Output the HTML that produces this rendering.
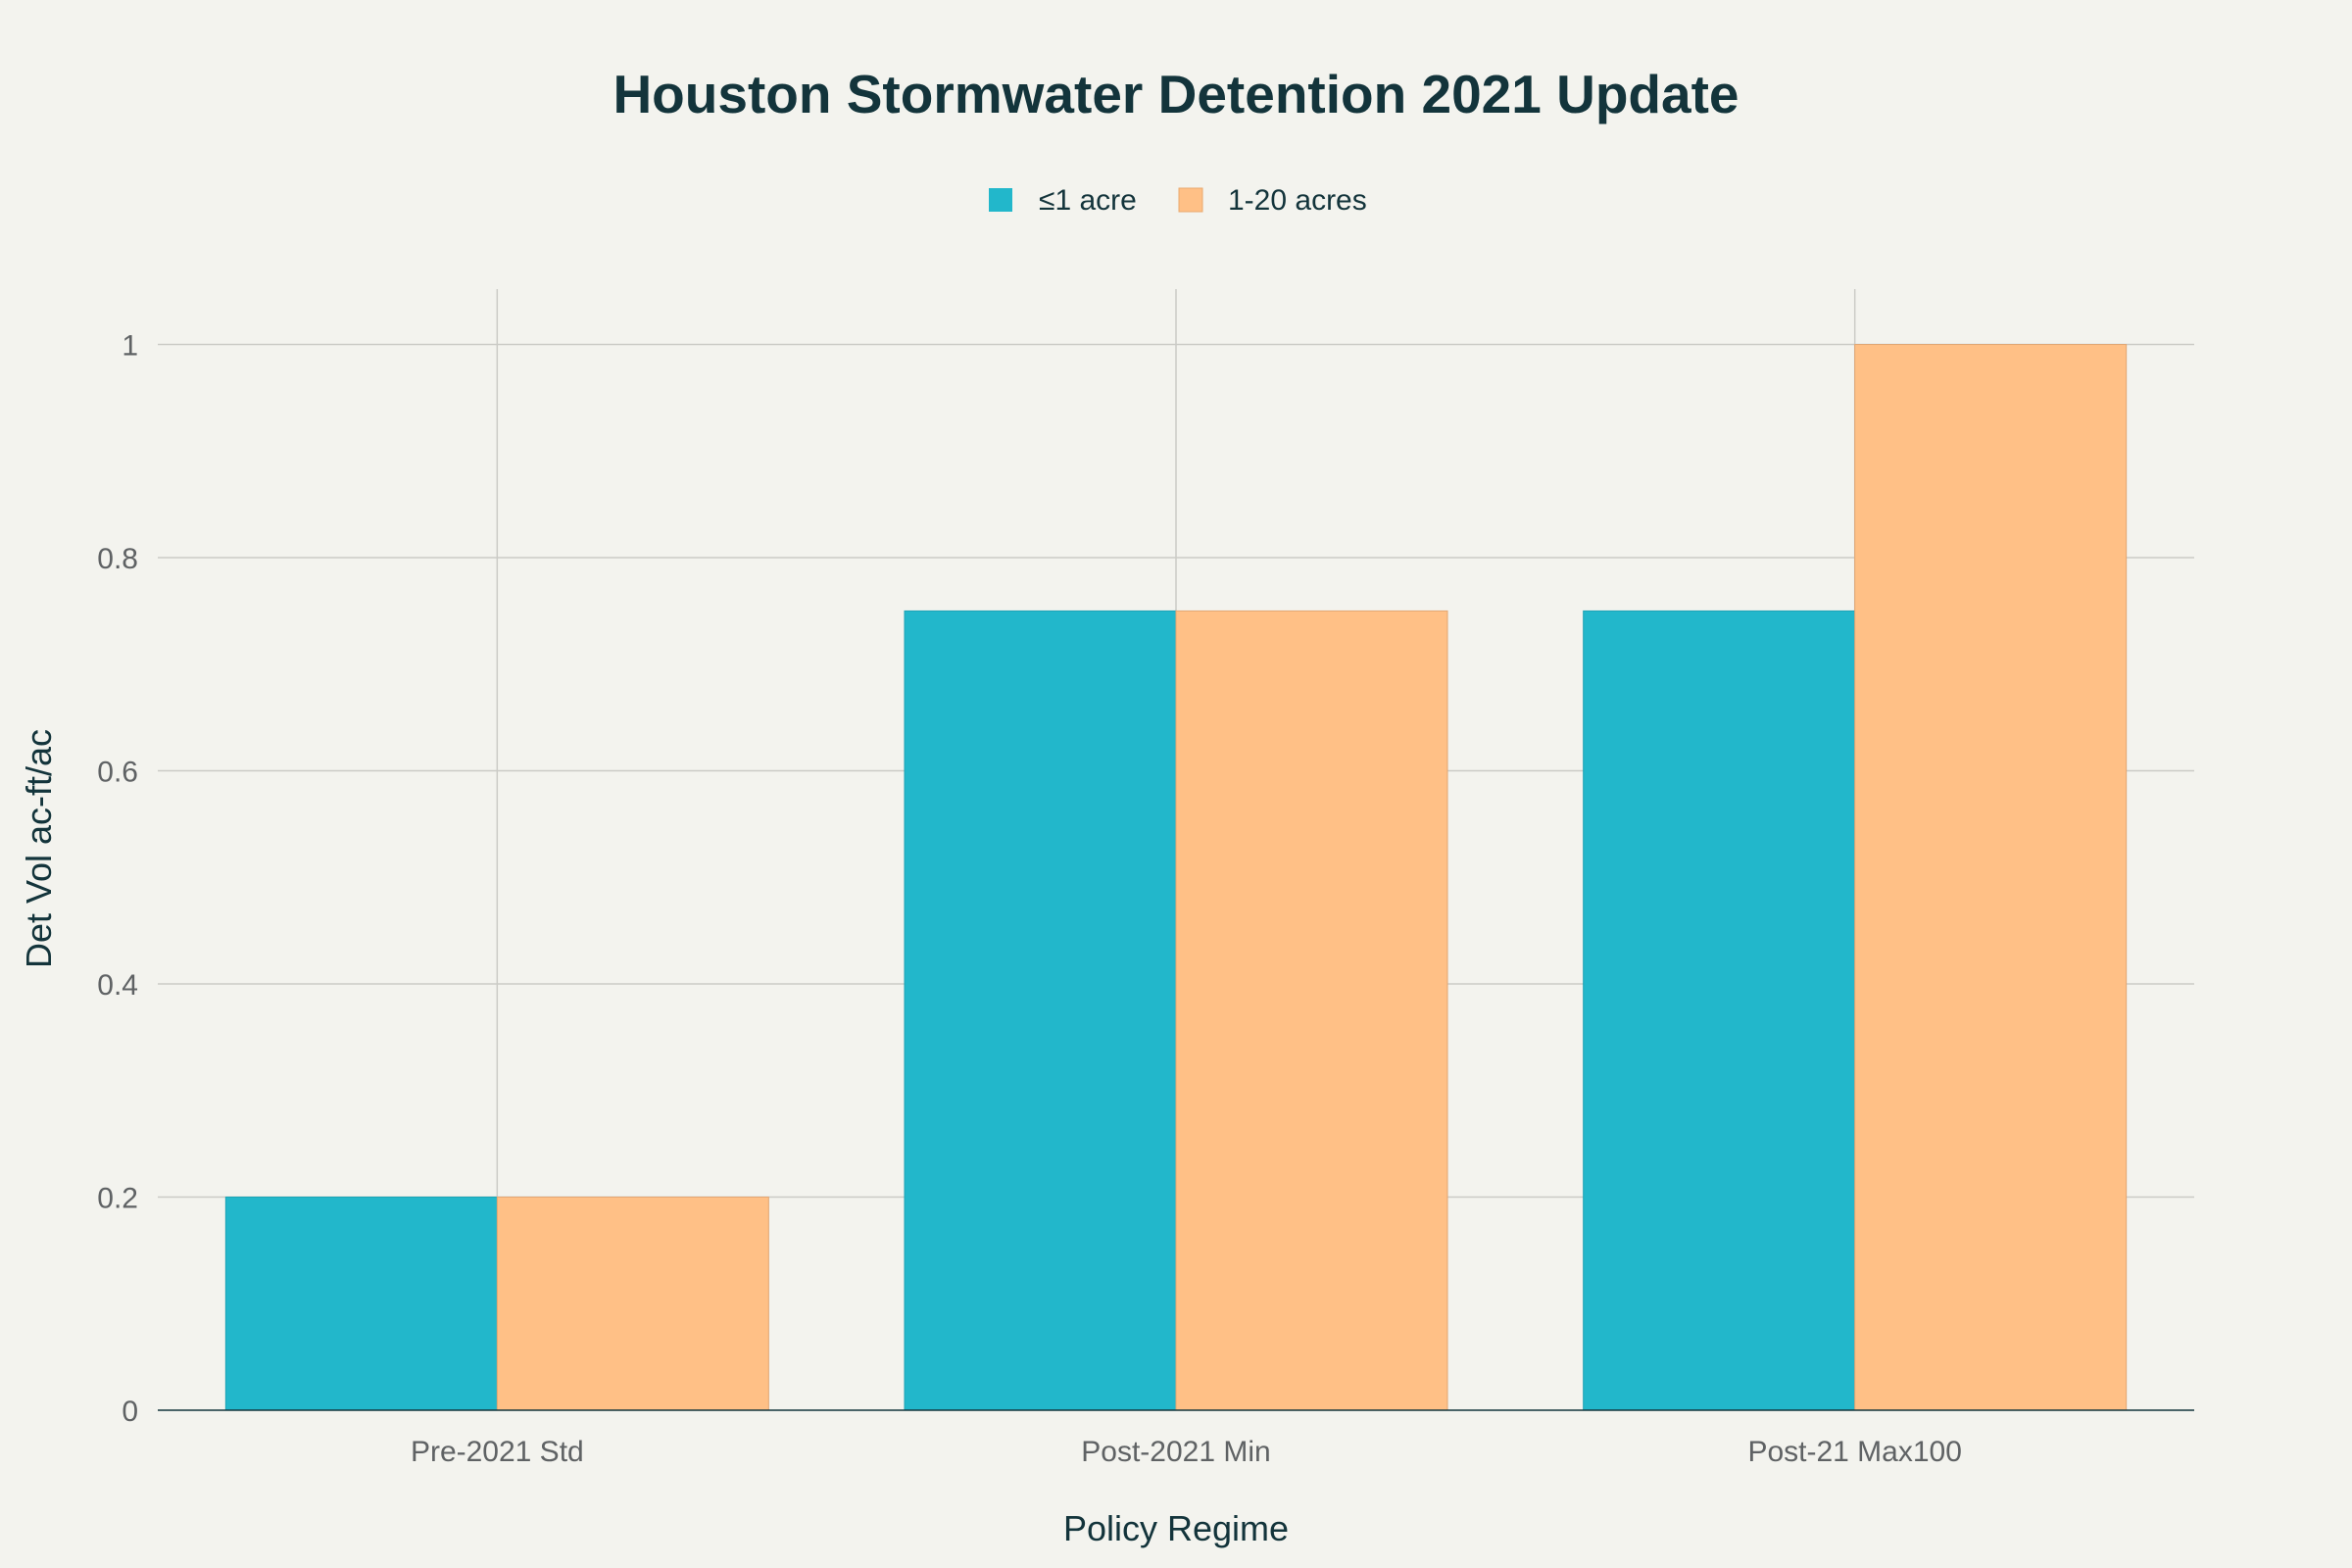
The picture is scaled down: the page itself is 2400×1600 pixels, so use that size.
<!DOCTYPE html>
<html><head><meta charset="utf-8"><style>
html,body{margin:0;padding:0;background:#f3f3ee;}
svg{display:block;font-family:"Liberation Sans",sans-serif;}
</style></head><body>
<svg id="chart" width="2400" height="1600" viewBox="0 0 2400 1600">
<rect width="2400" height="1600" fill="#f3f3ee"/>
<text x="1200" y="115" text-anchor="middle" font-size="55" font-weight="bold" fill="#13343b">Houston Stormwater Detention 2021 Update</text>
<g>
<rect x="1009" y="192" width="24" height="24" fill="#22b7cb"/>
<text x="1060" y="214" font-size="30" fill="#13343b">≤1 acre</text>
<rect x="1203" y="192" width="24" height="24" fill="#ffc086" stroke="#e8a96f" stroke-width="1"/>
<text x="1253" y="214" font-size="30" fill="#13343b">1-20 acres</text>
</g>
<g id="grid"></g>
<g id="bars"></g>
<g id="axes"></g>
<text x="1200" y="1572" text-anchor="middle" font-size="36" fill="#13343b">Policy Regime</text>
<text x="0" y="0" transform="translate(52,866) rotate(-90)" text-anchor="middle" font-size="36" fill="#13343b">Det Vol ac-ft/ac</text>
</svg>
<script>
const categories = ["Pre-2021 Std","Post-2021 Min","Post-21 Max100"];
const smallSite = [0.2,0.75,0.75];
const largeSite = [0.2,0.75,1.0];
const yTicks = [0,0.2,0.4,0.6,0.8,1];
const yTickLabels = ["0","0.2","0.4","0.6","0.8","1"];

const NS="http://www.w3.org/2000/svg";
const L=161,R=2239,T=295,B=1439,yMax=1.052;
const bandW=(R-L)/categories.length;
const barW=277;
function y(v){return B-(v/yMax)*(B-T);}
function xc(i){return L+bandW*(i+0.5);}
function mk(tag,attrs,parent){const e=document.createElementNS(NS,tag);for(const k in attrs)e.setAttribute(k,attrs[k]);document.getElementById(parent).appendChild(e);return e;}

yTicks.forEach((t,i)=>{
  if(t>0){const g=mk("line",{x1:L,x2:R,y1:y(t),y2:y(t),stroke:"#cbcbc6","stroke-width":1.5},"grid");
  
  }
  const tx=mk("text",{x:141,y:y(t)+11,"text-anchor":"end","font-size":30,fill:"#5f6264"},"axes");
  tx.textContent=yTickLabels[i];
  
  
});
categories.forEach((c,i)=>{
  const g=mk("line",{x1:xc(i),x2:xc(i),y1:T,y2:B,stroke:"#cbcbc6","stroke-width":1.5},"grid");
  
  
  const b1=mk("rect",{x:xc(i)-barW,y:y(smallSite[i]),width:barW,height:B-y(smallSite[i]),fill:"#22b7cb",stroke:"#1ea3b5","stroke-width":1},"bars");
  
  
  const b2=mk("rect",{x:xc(i),y:y(largeSite[i]),width:barW,height:B-y(largeSite[i]),fill:"#ffc086",stroke:"#e2a673","stroke-width":1},"bars");
  
  
  const tx=mk("text",{x:xc(i),y:1491,"text-anchor":"middle","font-size":30,fill:"#5f6264"},"axes");
  tx.textContent=c;
  
  
});
const ax=mk("line",{x1:L,x2:R,y1:B,y2:B,stroke:"#13343b","stroke-width":1.5},"axes");


</script>
</body></html>
